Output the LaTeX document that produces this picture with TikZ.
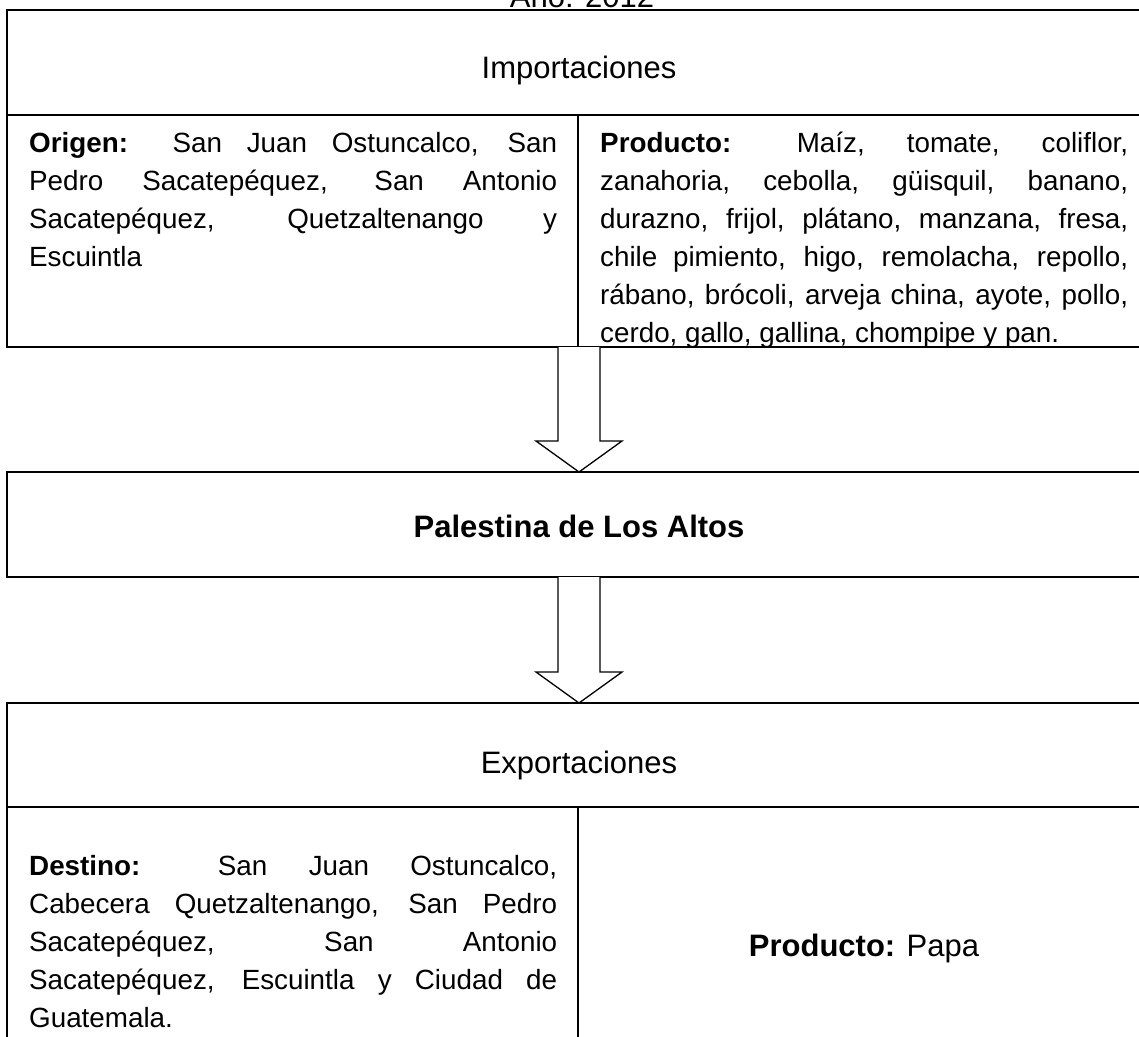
\documentclass[tikz,border=0pt]{standalone}
\usepackage{fontspec}
\setmainfont{Liberation Sans}
\usetikzlibrary{calc}
\tolerance=10000
\hbadness=10000
\begin{document}
\begin{tikzpicture}[x=1pt,y=-1pt,
  frame/.style={line width=1.8pt},
  barrow/.style={line width=1.3pt, fill=white, line join=miter},
  body/.style={font=\fontsize{27.8}{38}\selectfont, text width=528pt, align=justify, inner sep=0pt, anchor=north west},
  head/.style={font=\fontsize{31}{36}\selectfont, inner sep=0pt, anchor=base}]
\useasboundingbox (0,0) rectangle (1139,1036);
\clip (0,0) rectangle (1139,1036);

% frames
\draw[frame] (7,10) rectangle (1151,347);
\draw[frame] (7,115) -- (1151,115);
\draw[frame] (578,115) -- (578,347);
\draw[frame] (7,472) rectangle (1151,577);
\draw[frame] (7,703) rectangle (1151,1060);
\draw[frame] (7,807) -- (1151,807);
\draw[frame] (578,807) -- (578,1060);

% named anchor points for the connectors
\coordinate (impbot) at (579,347);
\coordinate (paltop) at (579,472);
\coordinate (palbot) at (579,577);
\coordinate (exptop) at (579,703);

% block arrows
\draw[barrow] ($(impbot)+(-21,0)$) -- ($(paltop)+(-21,-31)$) -- ($(paltop)+(-43,-31)$) -- (paltop)
  -- ($(paltop)+(43,-31)$) -- ($(paltop)+(21,-31)$) -- ($(impbot)+(21,0)$);
\draw[barrow] ($(palbot)+(-21,0)$) -- ($(exptop)+(-21,-31)$) -- ($(exptop)+(-43,-31)$) -- (exptop)
  -- ($(exptop)+(43,-31)$) -- ($(exptop)+(21,-31)$) -- ($(palbot)+(21,0)$);

% texts
\node[head] (anio) at (582,7) {Año: 2012};
\node[head] (imph) at (579,78) {Importaciones};
\node[body] (origen) at (29,122) {\noindent\rule{0pt}{30pt}\textbf{Origen:} San Juan Ostuncalco, San\linebreak
  Pedro Sacatepéquez, San Antonio\linebreak
  Sacatepéquez, Quetzaltenango y\linebreak
  Escuintla};
\begin{scope}
\clip (580,117) rectangle (1151,346);
\node[body] (prodimp) at (600,122) {\noindent\rule{0pt}{30pt}\textbf{Producto:} Maíz, tomate, coliflor,\linebreak
  zanahoria, cebolla, güisquil, banano,\linebreak
  durazno, frijol, plátano, manzana, fresa,\linebreak
  chile pimiento, higo, remolacha, repollo,\linebreak
  rábano, brócoli, arveja china, ayote, pollo,\linebreak
  cerdo, gallo, gallina, chompipe y pan.};
\end{scope}
\node[head] (pal) at (579,537) {\textbf{Palestina de Los Altos}};
\node[head] (exph) at (579,773) {Exportaciones};
\node[body] (destino) at (29,845) {\noindent\rule{0pt}{30pt}\textbf{Destino:} San Juan Ostuncalco,\linebreak
  Cabecera Quetzaltenango, San Pedro\linebreak
  Sacatepéquez, San Antonio\linebreak
  Sacatepéquez, Escuintla y Ciudad de\linebreak
  Guatemala.};
\node[head] (prodexp) at (864,956) {\textbf{Producto:} Papa};
\end{tikzpicture}
\end{document}
